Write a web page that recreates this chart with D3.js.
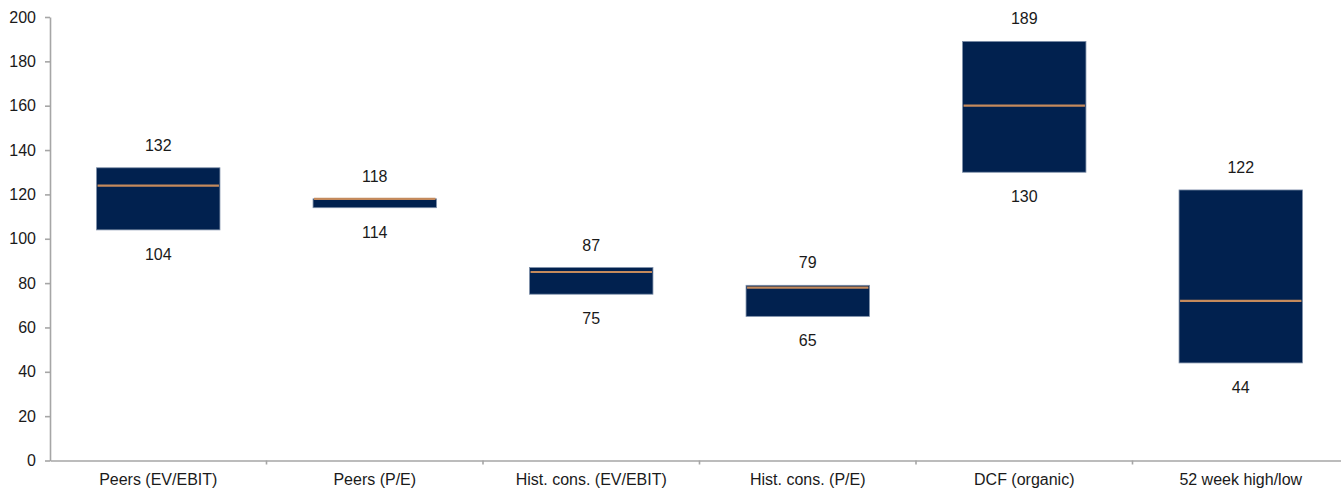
<!DOCTYPE html>
<html>
<head>
<meta charset="utf-8">
<script src="https://cdn.jsdelivr.net/npm/d3@7"></script>
<style>
  html, body { margin: 0; padding: 0; background: #ffffff; }
  svg { display: block; font-family: "Liberation Sans", Arial, sans-serif; }
  .axis path, .axis line { stroke: #a6a6a6; }
  .axis text { fill: #1a1a1a; font-size: 16px; }
</style>
</head>
<body>
<svg id="chart" width="1341" height="490"></svg>
<script>
// Valuation ranges per method (share price)
const categories = ["Peers (EV/EBIT)", "Peers (P/E)", "Hist. cons. (EV/EBIT)", "Hist. cons. (P/E)", "DCF (organic)", "52 week high/low"];
const lows = [104, 114, 75, 65, 130, 44];
const highs = [132, 118, 87, 79, 189, 122];
const mids = [124, 118, 85, 78, 160, 72];
const yTicks = [0, 20, 40, 60, 80, 100, 120, 140, 160, 180, 200];

const svg = d3.select("#chart");
const plotLeft = 50, plotRight = 1349, plotTop = 17, plotBottom = 460.5;

const x = d3.scaleBand()
  .domain(categories)
  .range([plotLeft, plotRight])
  .paddingInner(0.43)
  .paddingOuter(0.215);

const y = d3.scaleLinear().domain([0, 200]).range([plotBottom, plotTop]);

const rows = categories.map((c, i) => ({ c, low: lows[i], high: highs[i], mid: mids[i] }));

// Y axis
const yAxis = svg.append("g")
  .attr("class", "axis")
  .attr("transform", `translate(${plotLeft},0)`)
  .call(d3.axisLeft(y).tickValues(yTicks).tickSize(5).tickPadding(9).tickSizeOuter(0));
yAxis.selectAll("path, line").attr("stroke-width", 1.6);

// X axis with tick marks between categories
const xAxis = svg.append("g")
  .attr("class", "axis")
  .attr("transform", `translate(0,${plotBottom})`)
  .call(d3.axisBottom(x).tickSize(0).tickSizeOuter(0));
xAxis.select("path").attr("stroke-width", 1.6);
xAxis.selectAll("text").attr("y", 13).attr("dy", "0.71em");

const gap = x.step() * x.paddingInner() / 2;
xAxis.selectAll(".sep")
  .data(categories.slice(1))
  .join("line")
  .attr("class", "sep")
  .attr("x1", d => x(d) - gap)
  .attr("x2", d => x(d) - gap)
  .attr("y1", 0)
  .attr("y2", 4)
  .attr("stroke", "#a6a6a6")
  .attr("stroke-width", 1.6);

// Range boxes
const g = svg.append("g");
g.selectAll("rect.range")
  .data(rows)
  .join("rect")
  .attr("class", "range")
  .attr("x", d => x(d.c))
  .attr("width", x.bandwidth())
  .attr("y", d => y(d.high))
  .attr("height", d => y(d.low) - y(d.high))
  .attr("fill", "#01214f")
  .attr("stroke", "#7d8ea8")
  .attr("stroke-width", 0.8);

// Midpoint lines
g.selectAll("line.mid")
  .data(rows)
  .join("line")
  .attr("class", "mid")
  .attr("x1", d => x(d.c) + 1)
  .attr("x2", d => x(d.c) + x.bandwidth() - 1)
  .attr("y1", d => y(d.mid))
  .attr("y2", d => y(d.mid))
  .attr("stroke", "#c48a5c")
  .attr("stroke-width", 2.2);

// Value labels
g.selectAll("text.hi")
  .data(rows)
  .join("text")
  .attr("class", "hi")
  .attr("x", d => x(d.c) + x.bandwidth() / 2)
  .attr("y", d => y(d.high) - 17)
  .attr("text-anchor", "middle")
  .attr("font-size", 16)
  .attr("fill", "#1a1a1a")
  .text(d => d.high);

g.selectAll("text.lo")
  .data(rows)
  .join("text")
  .attr("class", "lo")
  .attr("x", d => x(d.c) + x.bandwidth() / 2)
  .attr("y", d => y(d.low) + 30)
  .attr("text-anchor", "middle")
  .attr("font-size", 16)
  .attr("fill", "#1a1a1a")
  .text(d => d.low);
</script>
</body>
</html>
